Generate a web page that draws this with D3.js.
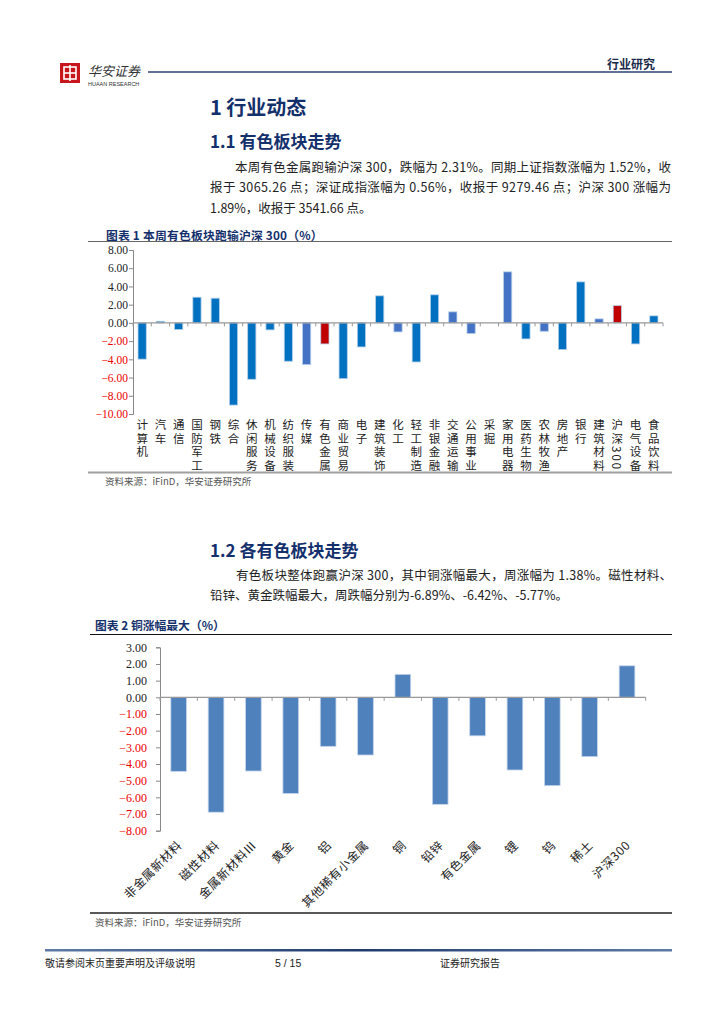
<!DOCTYPE html>
<html><head><meta charset="utf-8">
<script src="https://cdn.jsdelivr.net/npm/d3@7/dist/d3.min.js"></script>
<style>
html,body{margin:0;padding:0;background:#fff;}
svg{display:block;}
.cjk{font-family:"Noto Sans CJK SC","Liberation Sans",sans-serif;}
.serif{font-family:"Liberation Serif","DejaVu Serif",serif;}
</style></head>
<body>
<svg id="page" width="724" height="1024"></svg>
<script>
// ---------- data ----------
const sectors1 = ["计算机","汽车","通信","国防军工","钢铁","综合","休闲服务","机械设备","纺织服装","传媒","有色金属","商业贸易","电子","建筑装饰","化工","轻工制造","非银金融","交通运输","公用事业","采掘","家用电器","医药生物","农林牧渔","房地产","银行","建筑材料","沪深300","电气设备","食品饮料"];
const returns1 = [-3.98,0.18,-0.73,2.82,2.71,-9.02,-6.19,-0.77,-4.21,-4.58,-2.31,-6.12,-2.64,2.97,-0.99,-4.29,3.08,1.21,-1.17,0.0,5.60,-1.76,-0.92,-2.93,4.50,0.44,1.89,-2.31,0.77];
const tone1 = ["a","a","a","a","a","a","a","a","a","b","r","a","a","a","b","a","a","b","b","b","b","a","b","a","a","b","r","a","a"];
const ticks1 = [8,6,4,2,0,-2,-4,-6,-8,-10];

const metals2 = ["非金属新材料","磁性材料","金属新材料Ⅲ","黄金","铝","其他稀有小金属","铜","铅锌","有色金属","锂","钨","稀土","沪深300"];
const returns2 = [-4.44,-6.89,-4.42,-5.77,-2.94,-3.46,1.38,-6.42,-2.31,-4.36,-5.30,-3.56,1.89];
const ticks2 = [3,2,1,0,-1,-2,-3,-4,-5,-6,-7,-8];

// ---------- page ----------
const svg = d3.select("#page");
const navy = "#13306c";

// header
svg.append("rect").attr("x",60).attr("y",63).attr("width",20).attr("height",20).attr("fill","#c8161d");
const lg = svg.append("g").attr("stroke","#fff").attr("stroke-width",1.6).attr("fill","none");
lg.append("rect").attr("x",64).attr("y",67).attr("width",12).attr("height",12);
lg.append("line").attr("x1",70).attr("x2",70).attr("y1",65).attr("y2",81);
lg.append("line").attr("x1",64).attr("x2",76).attr("y1",73).attr("y2",73);
svg.append("text").attr("class","cjk").attr("x",88).attr("y",76).attr("font-size",13).attr("font-style","italic").attr("fill","#333").text("华安证券");
svg.append("text").attr("x",88).attr("y",86).attr("font-family","Liberation Sans").attr("font-size",5.5).attr("fill","#333").text("HUAAN RESEARCH");
svg.append("line").attr("x1",148).attr("x2",672).attr("y1",72).attr("y2",72).attr("stroke","#2a4373").attr("stroke-width",1.4);
svg.append("text").attr("class","cjk").attr("x",655).attr("y",69).attr("text-anchor","end").attr("font-size",12).attr("font-weight","bold").attr("fill","#1a2a4a").text("行业研究");

// headings & paragraphs
function heading(t,x,y,s){svg.append("text").attr("class","cjk").attr("x",x).attr("y",y).attr("font-size",s).attr("font-weight","bold").attr("fill",navy).text(t);}
function para(t,x,y,w){const el=svg.append("text").attr("class","cjk").attr("x",x).attr("y",y).attr("font-size",12.5).attr("fill","#222").text(t); if(w){el.attr("textLength",w).attr("lengthAdjust","spacing");}}
heading("1 行业动态",210,115,20);
heading("1.1 有色板块走势",210,148,17);
para("本周有色金属跑输沪深 300，跌幅为 2.31%。同期上证指数涨幅为 1.52%，收",235,171.5,436);
para("报于 3065.26 点；深证成指涨幅为 0.56%，收报于 9279.46 点；沪深 300 涨幅为",210,192,461);
para("1.89%，收报于 3541.66 点。",210,212.5,null);
heading("1.2 各有色板块走势",210,557,17);
para("有色板块整体跑赢沪深 300，其中铜涨幅最大，周涨幅为 1.38%。磁性材料、",236,580,436);
para("铅锌、黄金跌幅最大，周跌幅分别为-6.89%、-6.42%、-5.77%。",210,600,null);

// ---------- chart 1 ----------
svg.append("text").attr("class","cjk").attr("x",106).attr("y",239.5).attr("font-size",11.8).attr("font-weight","bold").attr("fill",navy).attr("letter-spacing",0.2).text("图表 1 本周有色板块跑输沪深 300（%）");
svg.append("line").attr("x1",88).attr("x2",672).attr("y1",241.5).attr("y2",241.5).attr("stroke","#666").attr("stroke-width",1);

const x1 = d3.scaleBand().domain(sectors1).range([133,663]).paddingInner(0.55).paddingOuter(0.275);
const y1 = d3.scaleLinear().domain([-10,8]).range([414,250]);
const col1 = {a:"#0070c0",b:"#4472c4",r:"#c00000"};

const g1 = svg.append("g");
g1.selectAll("rect").data(sectors1).join("rect")
  .attr("x",d=>x1(d)).attr("width",x1.bandwidth())
  .attr("y",(d,i)=>y1(Math.max(0,returns1[i])))
  .attr("height",(d,i)=>Math.abs(y1(returns1[i])-y1(0)))
  .attr("fill",(d,i)=>col1[tone1[i]])
  .attr("stroke","#b4cfea").attr("stroke-width",0.8);

const ya1 = g1.append("g").attr("transform","translate(133,0)")
  .call(d3.axisLeft(y1).tickValues(ticks1).tickFormat(d3.format(".2f")).tickSize(4).tickPadding(1));
ya1.select(".domain").attr("stroke","#888");
ya1.selectAll(".tick line").attr("stroke","#888");
ya1.selectAll(".tick text").attr("class","serif").attr("font-size",11.5).attr("fill",d=>d<0?"#e00":"#222");

// x axis at zero with boundary ticks
const step1 = x1.step();
g1.append("line").attr("x1",133).attr("x2",663).attr("y1",y1(0)).attr("y2",y1(0)).attr("stroke","#999").attr("stroke-width",1.2);
g1.selectAll("line.xt").data(d3.range(sectors1.length+1)).join("line").attr("class","xt")
  .attr("x1",i=>133+i*step1).attr("x2",i=>133+i*step1)
  .attr("y1",y1(0)).attr("y2",y1(0)+3.5).attr("stroke","#999");

// vertical labels via writing-mode (CJK upright, digits sideways)
g1.selectAll("text.xl").data(sectors1).join("text").attr("class","xl")
  .attr("x",d=>x1(d)+x1.bandwidth()/2).attr("y",419)
  .attr("font-family","Noto Sans CJK SC").attr("font-size",11.5).attr("fill","#222")
  .attr("letter-spacing",2)
  .style("writing-mode","vertical-rl").style("text-orientation","mixed")
  .text(d=>d);

svg.append("line").attr("x1",88).attr("x2",672).attr("y1",472.5).attr("y2",472.5).attr("stroke","#a0a0a0").attr("stroke-width",2);
svg.append("text").attr("class","cjk").attr("x",105).attr("y",484.5).attr("font-size",9.5).attr("fill","#555").text("资料来源：iFinD，华安证券研究所");

// ---------- chart 2 ----------
svg.append("text").attr("class","cjk").attr("x",95).attr("y",629.5).attr("font-size",11.8).attr("font-weight","bold").attr("fill",navy).text("图表 2 铜涨幅最大（%）");
svg.append("line").attr("x1",90).attr("x2",672).attr("y1",634.5).attr("y2",634.5).attr("stroke","#111").attr("stroke-width",1.2);

const x2 = d3.scaleBand().domain(metals2).range([160,645.7]).paddingInner(0.58).paddingOuter(0.29);
const y2 = d3.scaleLinear().domain([-8,3]).range([830.7,647.3]);
const g2 = svg.append("g");
g2.selectAll("rect").data(metals2).join("rect")
  .attr("x",d=>x2(d)).attr("width",x2.bandwidth())
  .attr("y",(d,i)=>y2(Math.max(0,returns2[i])))
  .attr("height",(d,i)=>Math.abs(y2(returns2[i])-y2(0)))
  .attr("fill","#4f81bd").attr("stroke","#c5d6ec").attr("stroke-width",0.8);

const ya2 = g2.append("g").attr("transform","translate(160,0)")
  .call(d3.axisLeft(y2).tickValues(ticks2).tickFormat(d3.format(".2f")).tickSize(4).tickPadding(9));
ya2.select(".domain").attr("stroke","#888");
ya2.selectAll(".tick line").attr("stroke","#888");
ya2.selectAll(".tick text").attr("class","serif").attr("font-size",12).attr("fill",d=>d<0?"#e00":"#222");

const step2 = x2.step();
g2.append("line").attr("x1",160).attr("x2",645.7).attr("y1",y2(0)).attr("y2",y2(0)).attr("stroke","#999").attr("stroke-width",1.2);
g2.selectAll("line.xt").data(d3.range(metals2.length+1)).join("line").attr("class","xt")
  .attr("x1",i=>160+i*step2).attr("x2",i=>160+i*step2)
  .attr("y1",y2(0)).attr("y2",y2(0)+3.5).attr("stroke","#999");

g2.selectAll("text.xl").data(metals2).join("text").attr("class","xl")
  .attr("transform",d=>`translate(${x2(d)+x2.bandwidth()/2+4},846) rotate(-45)`)
  .attr("text-anchor","end")
  .attr("font-family","Noto Sans CJK SC").attr("font-size",12).attr("letter-spacing",0.6).attr("fill","#222")
  .text(d=>d);

svg.append("line").attr("x1",90).attr("x2",672).attr("y1",913).attr("y2",913).attr("stroke","#222").attr("stroke-width",1.3);
svg.append("text").attr("class","cjk").attr("x",95).attr("y",925.5).attr("font-size",9.5).attr("fill","#555").text("资料来源：iFinD，华安证券研究所");

// ---------- footer ----------
const grad = svg.append("defs").append("linearGradient").attr("id","fg");
grad.append("stop").attr("offset","0%").attr("stop-color","#5d7aa8");
grad.append("stop").attr("offset","50%").attr("stop-color","#1f3b6e");
grad.append("stop").attr("offset","100%").attr("stop-color","#5d7aa8");
svg.append("rect").attr("x",45).attr("y",949).attr("width",627).attr("height",2.5).attr("fill","url(#fg)");
svg.append("text").attr("class","cjk").attr("x",45).attr("y",967).attr("font-size",10).attr("fill","#222").text("敬请参阅末页重要声明及评级说明");
svg.append("text").attr("x",275).attr("y",967).attr("font-family","Liberation Sans").attr("font-size",10.5).attr("fill","#222").text("5 / 15");
svg.append("text").attr("class","cjk").attr("x",440).attr("y",967).attr("font-size",10).attr("fill","#222").text("证券研究报告");
</script>
</body></html>
